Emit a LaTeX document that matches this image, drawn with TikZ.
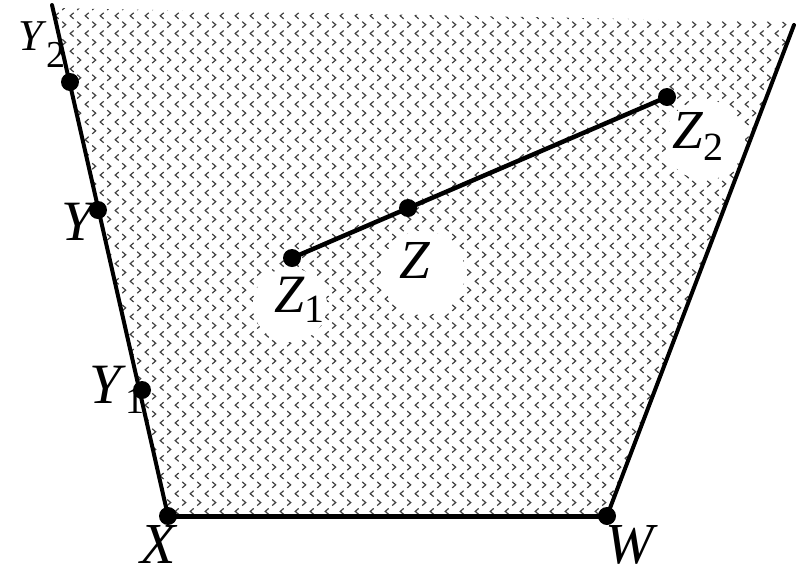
\documentclass[tikz,border=0pt]{standalone}
\usepackage{fontspec}
\setmainfont{Liberation Serif}
\begin{document}
\begin{tikzpicture}[x=1pt,y=-1pt,
  dot/.style={circle,fill=black,inner sep=0pt,minimum size=18pt},
  edge/.style={line width=4pt,line cap=round},
  chev/.style={line width=1.2pt,black!75},
  lab/.style={anchor=base west,inner sep=0pt,text depth=0pt,text=black}]
\useasboundingbox (0,0) rectangle (801,571);
% hatched region
\begin{scope}
\clip (52,8) -- (168,516) -- (607,516) -- (794,22) -- cycle;
\draw[chev] foreach \i in {-26,...,25} { foreach \k in {-18,...,12} {
  ({433.7+15*\i},{313.7+17.7*\k}) -- ++(-3.5,3) -- ++(3.5,3)
  ({422.2+15*\i},{322.55+17.7*\k}) -- ++(3.5,3) -- ++(-3.5,3) } };
\end{scope}
% white halos behind labels
\fill[white] (705,140) circle (40);
\fill[white] (423,273) circle (42);
\fill[white] (290,305) circle (37);
% points
\coordinate (ltop) at (52,5);
\coordinate (rtop) at (794,25);
\node[dot] (Y2) at (70,82) {};
\node[dot] (Y) at (98,210) {};
\node[dot] (Y1) at (142,390) {};
\node[dot] (X) at (168,516) {};
\node[dot] (W) at (607,516) {};
\node[dot] (Z1) at (292,258) {};
\node[dot] (Z) at (408,208) {};
\node[dot] (Z2) at (667,97) {};
% edges
\draw[edge] (ltop) -- (X.center);
\draw[edge,line width=5pt] (X.center) -- (W.center);
\draw[edge] (W.center) -- (rtop);
\draw[edge,line width=4.5pt] (Z1.center) -- (Z2.center);
% labels
\node[lab] (lY2) at (18,50) {\fontsize{44}{44}\selectfont\textit{Y}\raisebox{-17pt}{\fontsize{38}{38}\selectfont 2}};
\node[lab] (lY) at (61,240) {\fontsize{57}{57}\selectfont\textit{Y}};
\node[lab] (lY1) at (89,403) {\fontsize{57}{57}\selectfont\textit{Y}\raisebox{-10pt}{\fontsize{38}{38}\selectfont 1}};
\node[lab] (lX) at (140,563) {\fontsize{58}{58}\selectfont\textit{X}};
\node[lab] (lW) at (605,563) {\fontsize{58}{58}\selectfont\textit{W}};
\node[lab] (lZ1) at (274,312) {\fontsize{54}{54}\selectfont\textit{Z}\raisebox{-10pt}{\fontsize{40}{40}\selectfont 1}};
\node[lab] (lZ) at (399,278) {\fontsize{55}{55}\selectfont\textit{Z}};
\node[lab] (lZ2) at (672,148) {\fontsize{55}{55}\selectfont\textit{Z}\raisebox{-12pt}{\fontsize{40}{40}\selectfont 2}};
\end{tikzpicture}
\end{document}
